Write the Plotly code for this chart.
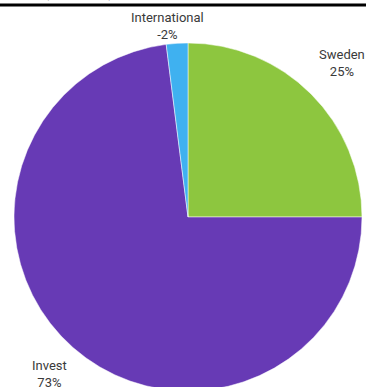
import math
import plotly.graph_objects as go

# Segment shares (percent); International is a negative contribution
segments = ["Sweden", "Invest", "International"]
shares = [25, 73, -2]
colors = ["#8DC63F", "#673AB5", "#3FB1F0"]
title_text = "EBIT (SEK m)"

# Placement of each data label: radial gap beyond the rim and a sideways nudge (px)
label_gap = [44, 35, 17]
label_dx = [0, 0, -9]

W, H = 366, 395
ML, MR, MT, MB = 14, 4, 43, 4
plot_h = H - MT - MB
plot_w = W - ML - MR

sizes = [abs(v) for v in shares]
total = sum(sizes)

fig = go.Figure(
    go.Pie(
        labels=segments,
        values=sizes,
        textinfo="none",
        sort=False,
        direction="clockwise",
        rotation=0,
        marker=dict(colors=colors, line=dict(color="white", width=0.5)),
        showlegend=False,
        hoverinfo="skip",
    )
)

# Data labels placed outside each slice, along the slice's mid angle
cx_px = ML + plot_w / 2
cy_px = MT + plot_h / 2
r_px = min(plot_w, plot_h) / 2
cum = 0
for seg, val, size, gap, dx in zip(segments, shares, sizes, label_gap, label_dx):
    mid = (cum + size / 2) / total * 2 * math.pi
    cum += size
    d = r_px + gap
    px = cx_px + d * math.sin(mid) + dx
    py = cy_px - d * math.cos(mid)
    fig.add_annotation(
        text=f"{seg}<br>{val}%",
        xref="paper", yref="paper",
        x=(px - ML) / plot_w, y=1 - (py - MT) / plot_h,
        xanchor="center", yanchor="middle",
        showarrow=False,
        font=dict(family="Roboto", size=13, color="#3a3a3a"),
    )

# Title (mostly above the visible area) and its underline
fig.add_annotation(
    text=f"<b>{title_text}</b>",
    xref="paper", yref="paper",
    x=(-6 - ML) / plot_w, y=1 + (MT - 3) / plot_h,
    xanchor="left", yanchor="bottom",
    showarrow=False,
    font=dict(family="Roboto", size=20, color="black"),
)
fig.add_shape(
    type="line", xref="paper", yref="paper",
    x0=-ML / plot_w, x1=1 + MR / plot_w,
    y0=1 + (MT - 5) / plot_h, y1=1 + (MT - 5) / plot_h,
    line=dict(color="black", width=3),
)

fig.update_layout(
    width=W, height=H, autosize=False,
    margin=dict(l=ML, r=MR, t=MT, b=MB),
    paper_bgcolor="white",
    plot_bgcolor="white",
)

fig.write_html(
    "out.html",
    config={"responsive": False},
    post_script="document.documentElement.style.overflow='hidden';"
                "document.body.style.overflow='hidden';"
                "document.body.style.margin='0';",
)
